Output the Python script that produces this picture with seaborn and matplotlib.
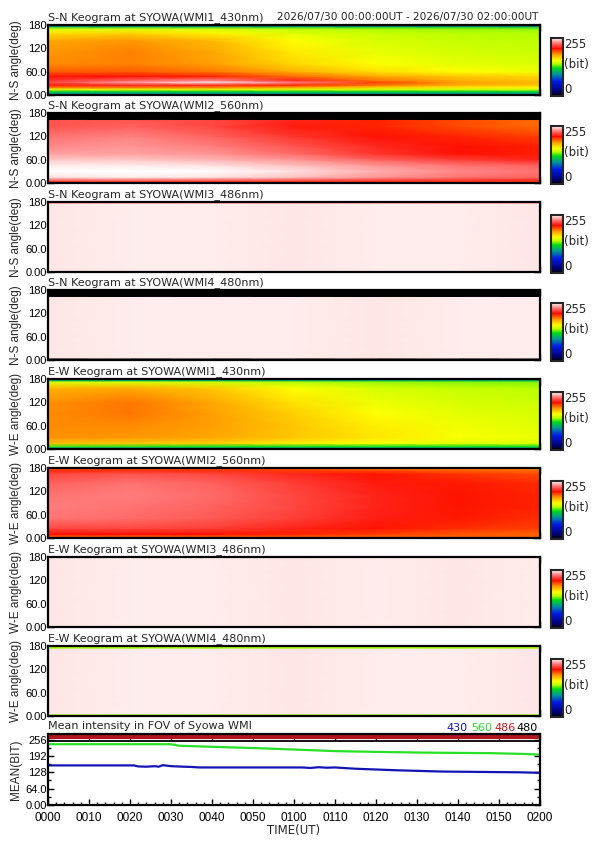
import numpy as np
import pandas as pd
import matplotlib
matplotlib.use("Agg")
import matplotlib.pyplot as plt
import seaborn as sns
from matplotlib.colors import LinearSegmentedColormap
from matplotlib.ticker import MultipleLocator

sns.set_style("ticks")
plt.rcParams['font.family'] = ['DejaVu Sans']

W, H = 595, 842

# ---- keogram data (bit values) ----
minutes = [0, 20, 40, 60, 80, 100, 120]

sn430_ang = [0, 4, 9, 14, 20, 26, 32, 38, 48, 60, 80, 110, 140, 160, 170, 176, 180]
sn430 = [
    [30, 30, 30, 30, 30, 30, 30],
    [100, 100, 100, 100, 100, 100, 100],
    [118, 118, 118, 118, 118, 118, 118],
    [150, 150, 148, 148, 146, 145, 145],
    [190, 190, 188, 180, 170, 164, 160],
    [212, 215, 214, 205, 190, 178, 172],
    [222, 240, 250, 235, 200, 182, 176],
    [218, 228, 235, 215, 190, 178, 172],
    [210, 210, 205, 192, 180, 172, 168],
    [195, 195, 190, 178, 166, 158, 155],
    [186, 188, 182, 168, 158, 152, 150],
    [184, 188, 180, 163, 153, 148, 146],
    [180, 184, 175, 158, 149, 145, 143],
    [165, 168, 160, 150, 145, 142, 141],
    [150, 150, 148, 143, 140, 138, 137],
    [110, 110, 110, 110, 110, 110, 110],
    [30, 30, 30, 30, 30, 30, 30],
]

sn560_ang = [0, 7, 15, 30, 45, 60, 75, 95, 120, 145, 163, 163.5, 180]
sn560 = [
    [205, 205, 205, 205, 203, 200, 198],
    [228, 228, 226, 224, 220, 218, 215],
    [250, 252, 250, 245, 238, 232, 228],
    [255, 255, 255, 250, 242, 236, 232],
    [252, 252, 250, 245, 238, 232, 228],
    [246, 246, 243, 238, 228, 220, 214],
    [240, 240, 238, 230, 218, 210, 206],
    [236, 238, 234, 225, 215, 210, 206],
    [232, 235, 228, 218, 210, 205, 200],
    [225, 228, 222, 212, 205, 198, 192],
    [225, 225, 222, 215, 205, 198, 192],
    [0, 0, 0, 0, 0, 0, 0],
    [0, 0, 0, 0, 0, 0, 0],
]

sn486_ang = [0, 176, 180]
sn486 = [
    [251, 252, 252, 251, 252, 252, 251],
    [251, 252, 252, 251, 252, 252, 251],
    [205, 205, 205, 205, 205, 205, 205],
]

sn480_ang = [0, 5, 5.5, 163, 163.5, 180]
sn480 = [
    [0, 0, 0, 0, 0, 0, 0],
    [0, 0, 0, 0, 0, 0, 0],
    [251, 252, 252, 252, 251, 252, 252],
    [251, 252, 252, 252, 251, 252, 252],
    [0, 0, 0, 0, 0, 0, 0],
    [0, 0, 0, 0, 0, 0, 0],
]

ew430_ang = [0, 3, 7, 15, 30, 60, 90, 120, 155, 172, 177, 180]
ew430 = [
    [40, 40, 40, 40, 40, 40, 40],
    [100, 100, 100, 100, 100, 100, 100],
    [130, 128, 125, 125, 125, 125, 125],
    [175, 172, 170, 163, 157, 152, 150],
    [185, 184, 180, 172, 164, 157, 154],
    [186, 186, 182, 172, 162, 155, 151],
    [186, 190, 182, 170, 158, 152, 149],
    [185, 190, 180, 165, 154, 149, 146],
    [178, 180, 172, 158, 149, 145, 143],
    [150, 150, 148, 142, 139, 137, 136],
    [110, 110, 110, 110, 110, 110, 110],
    [40, 40, 40, 40, 40, 40, 40],
]

ew560_ang = [0, 3, 10, 25, 50, 80, 110, 140, 165, 176, 180]
ew560 = [
    [175, 175, 175, 175, 175, 175, 175],
    [195, 195, 195, 195, 195, 195, 195],
    [210, 210, 208, 205, 200, 196, 193],
    [222, 222, 220, 214, 208, 203, 200],
    [232, 230, 226, 220, 213, 207, 203],
    [234, 232, 228, 222, 214, 208, 205],
    [232, 234, 230, 222, 214, 208, 205],
    [228, 232, 228, 220, 212, 207, 204],
    [222, 225, 222, 215, 208, 202, 198],
    [205, 205, 205, 200, 195, 192, 190],
    [175, 175, 175, 175, 175, 175, 175],
]

ew486_ang = [0, 3, 180]
ew486 = [
    [175, 175, 175, 175, 175, 175, 175],
    [251, 252, 252, 251, 252, 251, 252],
    [251, 252, 252, 251, 252, 251, 252],
]

ew480_ang = [0, 5, 6, 174, 175, 180]
ew480 = [
    [140, 140, 140, 140, 140, 140, 140],
    [140, 140, 140, 140, 140, 140, 140],
    [251, 252, 252, 251, 252, 252, 251],
    [251, 252, 252, 251, 252, 252, 251],
    [140, 140, 140, 140, 140, 140, 140],
    [140, 140, 140, 140, 140, 140, 140],
]

# ---- mean intensity lines ----
t560 = [0, 30, 32, 40, 52, 62, 70, 80, 92, 108, 116, 120]
mean560 = [238, 238, 232, 228, 222, 216, 211, 208, 205, 203, 200, 197]
t430 = [0, 21, 22, 24, 26, 27, 28, 30, 33, 35, 37, 62, 64, 66, 68, 70, 75, 85, 96, 115, 120]
mean430 = [155, 155, 151, 150, 152, 150, 156, 152, 150, 149, 147, 147, 145, 148, 146, 147,
           142, 136, 131, 128, 126]
t486 = [0, 120]
mean486 = [265, 265]
t480 = [0, 120]
mean480 = [249, 249]

xticks = list(range(0, 121, 10))
xlabels = ["%02d%02d" % (m // 60, m % 60) for m in xticks]

cmap = LinearSegmentedColormap.from_list("keo", [
    (0.00, (0, 0, 0)),
    (0.08, (0, 0, 0.45)),
    (0.25, (0, 0.1, 0.9)),
    (0.38, (0, 0.6, 0.6)),
    (0.48, (0, 0.85, 0.1)),
    (0.555, (0.72, 1, 0)),
    (0.62, (1, 1, 0)),
    (0.72, (1, 0.6, 0)),
    (0.82, (1, 0.05, 0)),
    (0.92, (1, 0.5, 0.5)),
    (1.00, (1, 1, 1)),
])

fig = plt.figure(figsize=(W / 100, H / 100), dpi=100)


def px_axes(x0, y0, w, h):
    return fig.add_axes([x0 / W, 1 - (y0 + h) / H, w / W, h / H])


def style_axes(ax):
    for s in ax.spines.values():
        s.set_linewidth(1.6)
        s.set_color("black")
    ax.tick_params(which="both", direction="in", top=True, right=True, width=1, colors="black")
    ax.tick_params(which="major", length=4, labelsize=8, pad=1)
    ax.tick_params(which="minor", length=2)
    for lab in ax.get_yticklabels():
        lab.set_fontfamily("Liberation Sans")
    ax.set_xlim(0, 120)
    ax.set_xticks(xticks)
    ax.xaxis.set_minor_locator(MultipleLocator(2))


panels = [
    ("S-N Keogram at SYOWA(WMI1_430nm)", "N-S angle(deg)", sn430_ang, sn430),
    ("S-N Keogram at SYOWA(WMI2_560nm)", "N-S angle(deg)", sn560_ang, sn560),
    ("S-N Keogram at SYOWA(WMI3_486nm)", "N-S angle(deg)", sn486_ang, sn486),
    ("S-N Keogram at SYOWA(WMI4_480nm)", "N-S angle(deg)", sn480_ang, sn480),
    ("E-W Keogram at SYOWA(WMI1_430nm)", "W-E angle(deg)", ew430_ang, ew430),
    ("E-W Keogram at SYOWA(WMI2_560nm)", "W-E angle(deg)", ew560_ang, ew560),
    ("E-W Keogram at SYOWA(WMI3_486nm)", "W-E angle(deg)", ew486_ang, ew486),
    ("E-W Keogram at SYOWA(WMI4_480nm)", "W-E angle(deg)", ew480_ang, ew480),
]
tops = [25, 113, 202, 290, 379, 468, 557, 646]

for (title, ylab, ang, vals), top in zip(panels, tops):
    ax = px_axes(48, top, 492, 70)
    mesh = ax.pcolormesh(minutes, ang, np.array(vals, dtype=float), shading="gouraud",
                         cmap=cmap, vmin=0, vmax=255)
    ax.set_ylim(0, 180)
    ax.set_yticks([0, 60, 120, 180])
    ax.set_yticklabels(["0.00", "60.0", "120", "180"])
    ax.yaxis.set_minor_locator(MultipleLocator(30))
    style_axes(ax)
    ax.set_xticklabels([])
    ax.set_ylabel(ylab, fontsize=8.5, fontfamily="Liberation Sans", labelpad=2)
    ax.text(0, 1.0 + 5 / 70, title, transform=ax.transAxes, ha="left", va="baseline", fontsize=8)

    cax = px_axes(551, top + 13, 12, 58)
    cb = fig.colorbar(mesh, cax=cax)
    cb.set_ticks([])
    cb.outline.set_linewidth(1.5)
    cax.text(1.1, 1.0, "255", transform=cax.transAxes, ha="left", va="top", fontsize=8.5)
    cax.text(1.1, 0.55, "(bit)", transform=cax.transAxes, ha="left", va="center", fontsize=8.5)
    cax.text(1.1, 0.0, "0", transform=cax.transAxes, ha="left", va="bottom", fontsize=8.5)

fig.text(538 / W, 1 - 20 / H, "2026/07/30 00:00:00UT - 2026/07/30 02:00:00UT",
         ha="right", va="baseline", fontsize=7.6)

# ---- mean intensity panel ----
axm = px_axes(48, 734, 492, 71)
sns.lineplot(x=t486, y=mean486, color="#b0141e", lw=3, estimator=None, ax=axm)
sns.lineplot(x=t480, y=mean480, color="black", lw=1.3, estimator=None, ax=axm)
sns.lineplot(x=t560, y=mean560, color="#28e028", lw=1.6, estimator=None, ax=axm)
sns.lineplot(x=t430, y=mean430, color="#1414b4", lw=1.6, estimator=None, ax=axm)
axm.set_ylim(0, 278)
axm.set_yticks([0, 64, 128, 192, 256])
axm.set_yticklabels(["0.00", "64.0", "128", "192", "256"])
axm.yaxis.set_minor_locator(MultipleLocator(32))
style_axes(axm)
axm.set_xticklabels(xlabels, fontfamily="Liberation Sans", fontsize=8.5)
axm.tick_params(axis="x", pad=5)
axm.set_ylabel("MEAN(BIT)", fontsize=8.5, fontfamily="Liberation Sans", labelpad=2)
axm.set_xlabel("TIME(UT)", fontsize=8.5, labelpad=0)
axm.text(0, 1.0 + 5 / 71, "Mean intensity in FOV of Syowa WMI", transform=axm.transAxes,
         ha="left", va="baseline", fontsize=8)

legend_items = [("430", "#1414b4", 457), ("560", "#28e028", 482),
                ("486", "#c0141e", 505), ("480", "black", 527)]
for txt, col, xc in legend_items:
    fig.text(xc / W, 1 - 731 / H, txt, color=col, ha="center", va="baseline", fontsize=8)

fig.savefig("out.png", dpi=100)
